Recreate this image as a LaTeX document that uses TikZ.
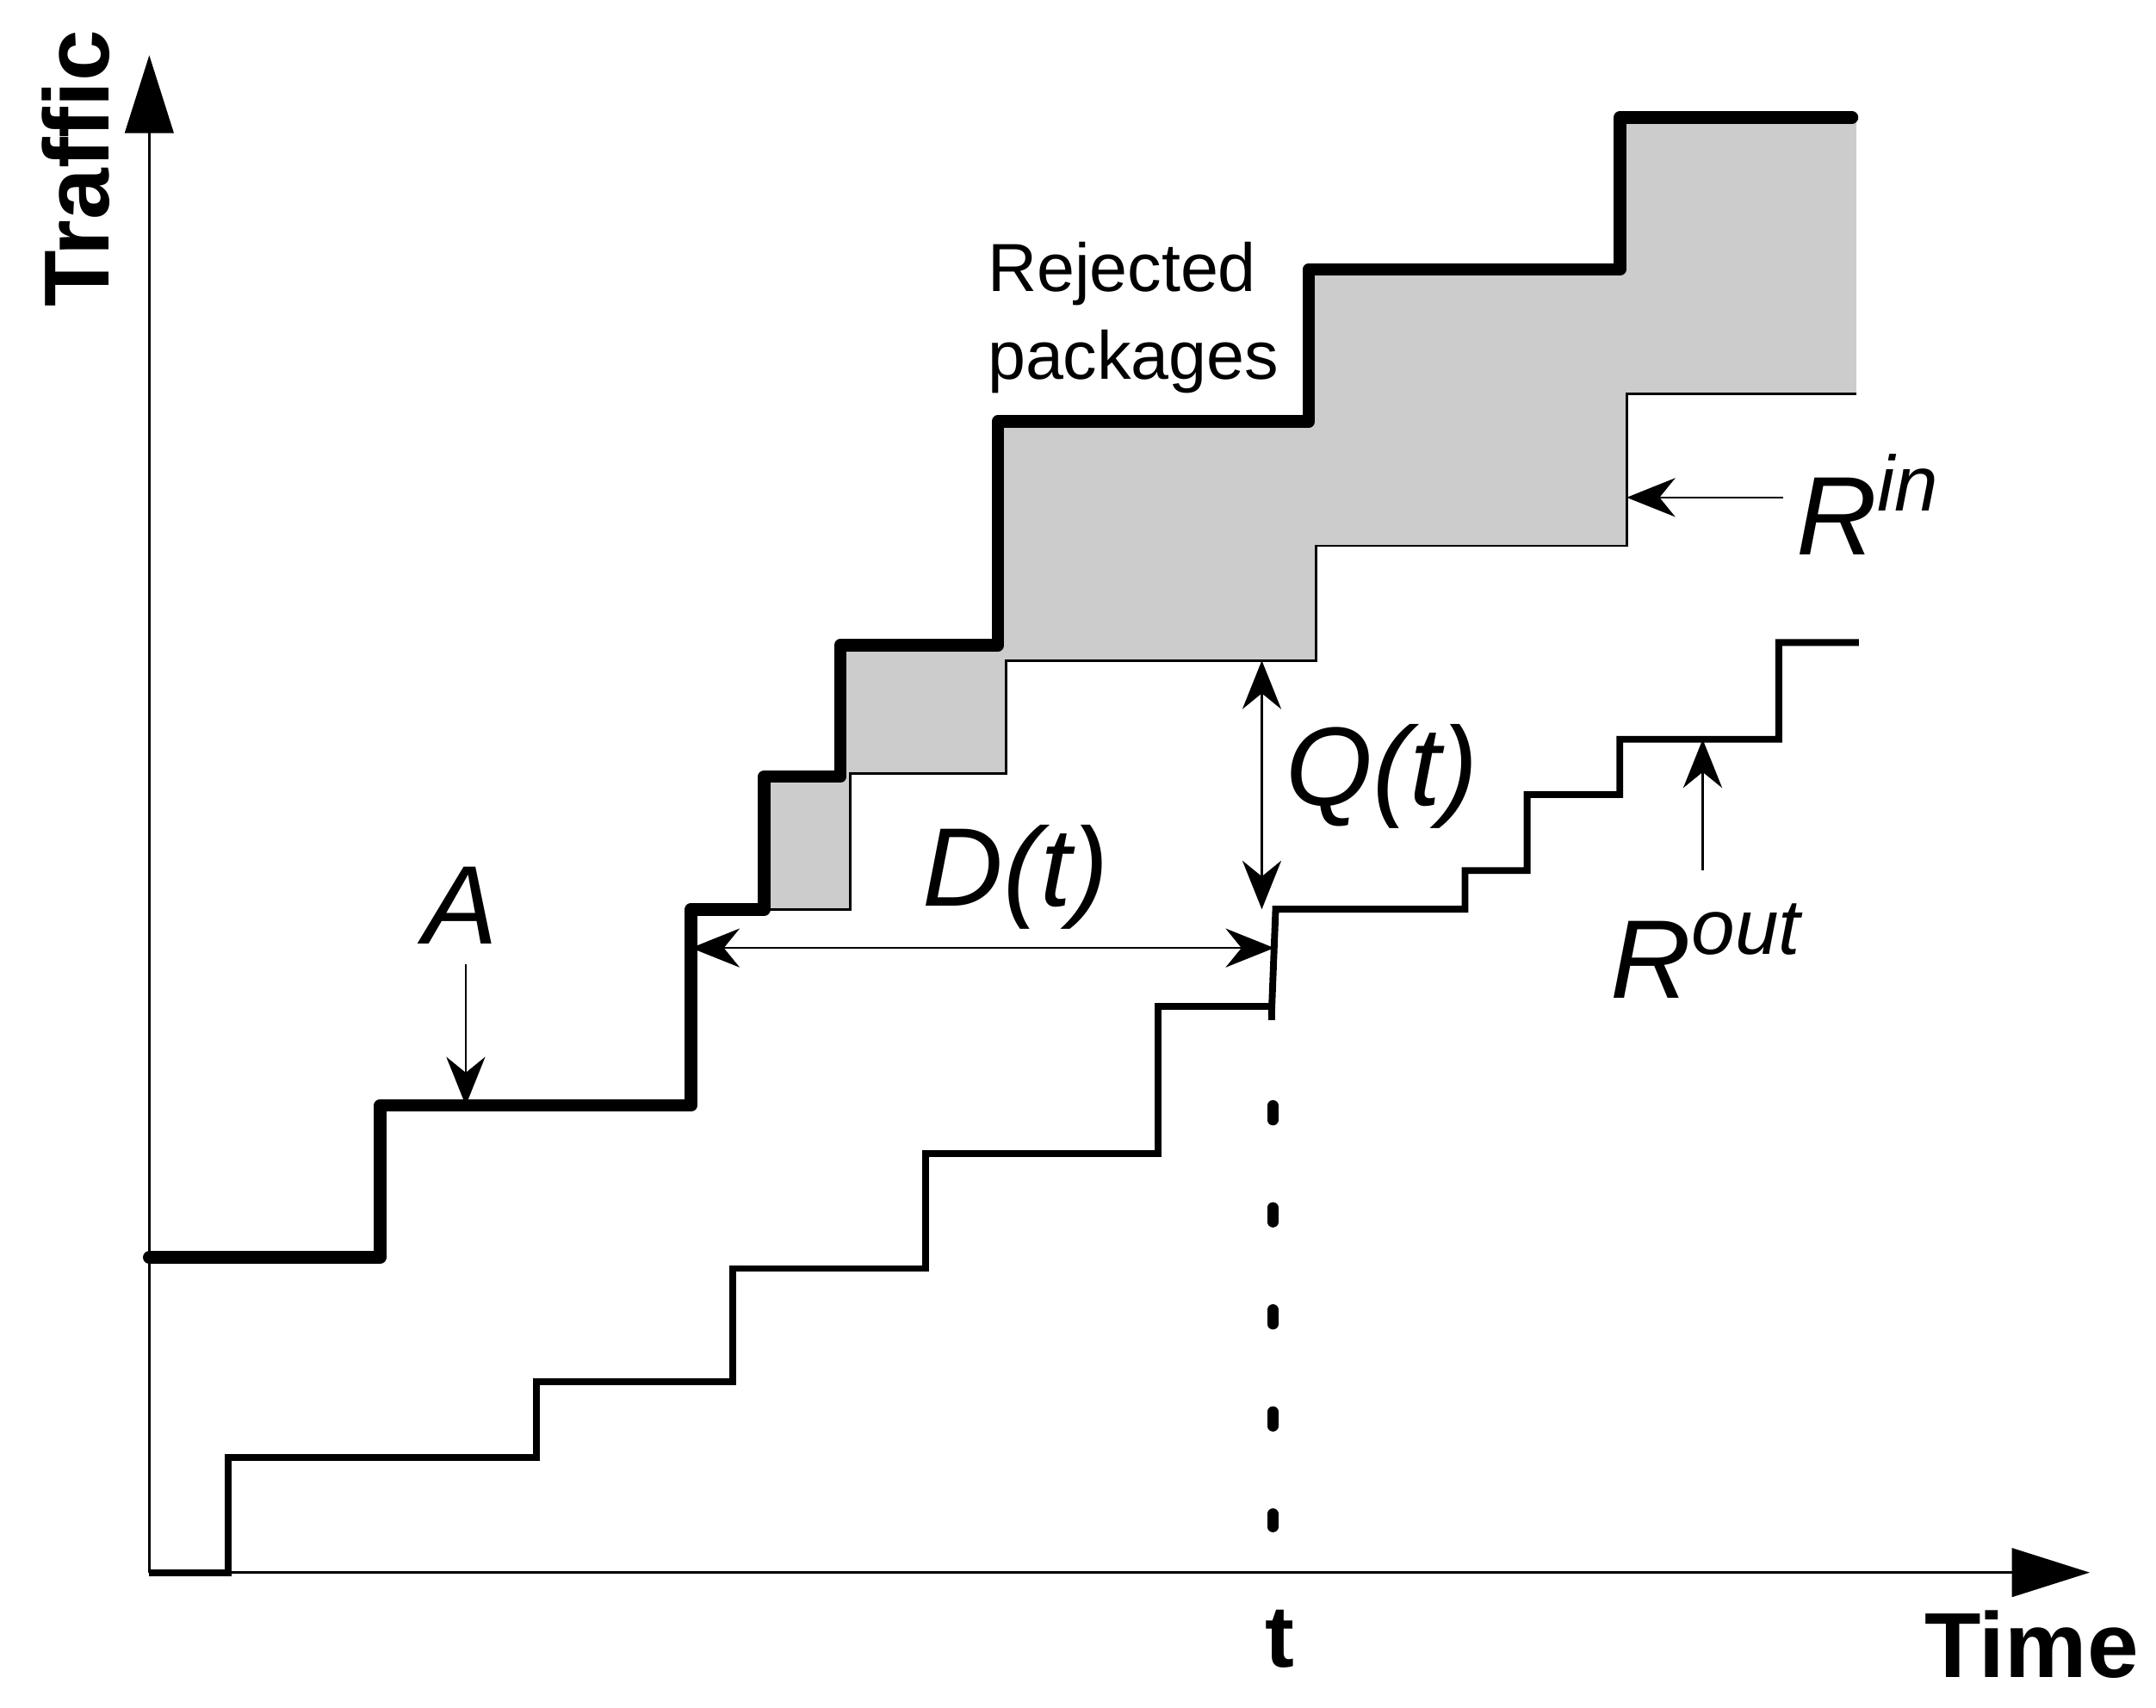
\documentclass[tikz,border=0pt]{standalone}
\usepackage{fontspec}
\setmainfont{Liberation Sans}
\usetikzlibrary{arrows.meta, positioning}

\begin{document}
\begin{tikzpicture}[
        x=0.01cm, y=-0.01cm,
        axis/.style={line width=0.5pt, -{Triangle[length=16pt, width=10pt]}},
        arrival/.style={line width=2.6pt, line join=round, line cap=round},
        service/.style={line width=1.4pt},
        shifted/.style={line width=0.5pt, fill=black!20},
        pointer/.style={line width=0.4pt, -{Stealth[length=10pt, width=8pt]}},
        both/.style={line width=0.4pt, {Stealth[length=10pt, width=8pt]}-{Stealth[length=10pt, width=8pt]}},
        big/.style={font=\fontsize{23}{27}\selectfont\itshape},
        axislabel/.style={font=\fontsize{19}{23}\selectfont\bfseries}
        ]
        \useasboundingbox (0,0) rectangle (1560,1236);

        % Axes
        \coordinate (O) at (108,1138);
        \coordinate (Ytop) at (108,40);
        \coordinate (Xend) at (1512,1138);
        \draw[axis] (O) -- (Ytop);
        \draw[axis] (O) -- (Xend);
        \node[axislabel, rotate=90] (traffic) at (55,122) {Traffic};
        \node[axislabel] (time) at (1470,1190) {Time};
        \node[font=\fontsize{18}{22}\selectfont\bfseries] (tlabel) at (926,1186) {t};

        % Rejected area
        \draw[shifted] (553,658) -- (553,562) -- (608,562) -- (608,467) -- (722,467)
            -- (722,305) -- (947,305) -- (947,195) -- (1172,195) -- (1172,85)
            -- (1345,85) -- (1345,285) -- (1177,285) -- (1177,395) -- (952,395)
            -- (952,478) -- (728,478) -- (728,560) -- (615,560) -- (615,658) -- cycle;
        \fill[white] (1343,80) rectangle (1350,287);

        % Arrival curve
        \draw[arrival] (108,910) -- (275,910) -- (275,800) -- (500,800) -- (500,658)
            -- (553,658) -- (553,562) -- (608,562) -- (608,467) -- (722,467)
            -- (722,305) -- (947,305) -- (947,195) -- (1172,195) -- (1172,85) -- (1340,85);

        % Departure curve
        \draw[service] (108,1138) -- (165,1138) -- (165,1055) -- (388,1055) -- (388,1000)
            -- (530,1000) -- (530,918) -- (670,918) -- (670,835) -- (838,835)
            -- (838,728) -- (920,728) -- (920,738);
        \draw[service] (920,735) -- (923,658) -- (1060,658) -- (1060,630) -- (1105,630)
            -- (1105,575) -- (1172,575) -- (1172,535) -- (1287,535) -- (1287,465) -- (1345,465);
        \draw[line width=2.2pt, line cap=round, dash pattern=on 3pt off 18pt] (921,800) -- (921,1105);

        % Labels
        \node[font=\fontsize{14}{18}\selectfont, align=left] (rejected) at (820,230) {Rejected\\packages};
        \node[big] (A) at (333,655) {A};
        \draw[pointer] (337,698) -- (337,800);
        \node[big] (D) at (735,635) {D(t)};
        \draw[both] (500,686) -- (922,686);
        \node[big] (Q) at (1000,562) {Q(t)};
        \draw[both] (913,478) -- (913,658);
        \node[big] (Rin) at (1352,365) {R\textsuperscript{in}};
        \draw[pointer] (1290,360) -- (1177,360);
        \node[big] (Rout) at (1235,688) {R\textsuperscript{out}};
        \draw[pointer] (1232,630) -- (1232,535);
\end{tikzpicture}
\end{document}
